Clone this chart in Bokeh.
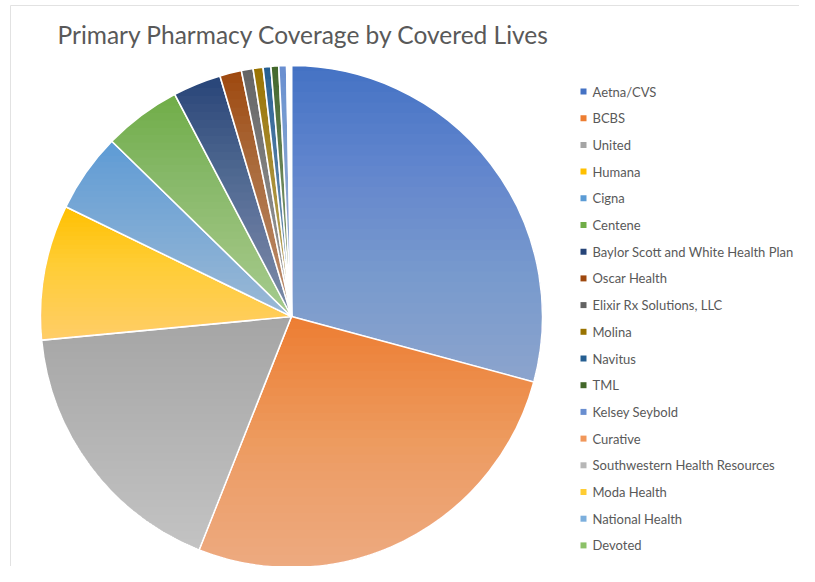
import math
from bokeh.plotting import figure
from bokeh.models import ColumnDataSource, Range1d
from bokeh.core.properties import value
from bokeh.embed import file_html
from bokeh.resources import INLINE

title = "Primary Pharmacy Coverage by Covered Lives"

names = ["Aetna/CVS", "BCBS", "United", "Humana", "Cigna", "Centene",
         "Baylor Scott and White Health Plan", "Oscar Health",
         "Elixir Rx Solutions, LLC", "Molina", "Navitus", "TML",
         "Kelsey Seybold", "Curative", "Southwestern Health Resources",
         "Moda  Health", "National Health", "Devoted"]
shares = [29.2, 26.8, 17.5, 8.7, 5.1, 5.0, 3.1, 1.4, 0.75, 0.64, 0.5, 0.5,
          0.5, 0.1, 0.08, 0.05, 0.05, 0.03]
colors = ["#4472C4", "#ED7D31", "#A5A5A5", "#FFC000", "#5B9BD5", "#70AD47",
          "#264478", "#9E480E", "#636363", "#997300", "#255E91", "#43682B",
          "#698ED0", "#F1975A", "#B7B7B7", "#FFCD33", "#7CAFDD", "#8CC168"]

W, H = 799, 566
CX, CY, R = 291, H - 316, 251

total = sum(shares)
starts, ends = [], []
c = 0.0
for v in shares:
    starts.append(math.pi / 2 - 2 * math.pi * c / total)
    c += v
    ends.append(math.pi / 2 - 2 * math.pi * c / total)

p = figure(width=W, height=H, x_range=Range1d(0, W), y_range=Range1d(0, H),
           x_axis_type=None, y_axis_type=None, output_backend="svg",
           toolbar_location=None, min_border=0)
p.grid.visible = False
p.outline_line_color = None
p.background_fill_color = "white"

src = ColumnDataSource(dict(name=names, share=shares, color=colors,
                            start=starts, end=ends))
p.wedge(x=CX, y=CY, radius=R, start_angle="start", end_angle="end",
        direction="clock", fill_color="color", line_color="white",
        line_width=1.6, source=src)

# per-slice vertical gradient (lighter toward the slice's bottom)
def clip_below(poly, yl):
    out = []
    n = len(poly)
    for i in range(n):
        x1, y1 = poly[i]
        x2, y2 = poly[(i + 1) % n]
        in1, in2 = y1 <= yl, y2 <= yl
        if in1:
            out.append((x1, y1))
        if in1 != in2:
            t = (yl - y1) / (y2 - y1)
            out.append((x1 + t * (x2 - x1), yl))
    return out

N = 30
final_alpha = 0.42
a = 1 - (1 - final_alpha) ** (1.0 / N)
gxs, gys = [], []
for s, e in zip(starts, ends):
    n = max(3, int(abs(s - e) / math.radians(0.5)) + 2)
    poly = [(CX, CY)]
    for k in range(n):
        th = s + (e - s) * k / (n - 1)
        poly.append((CX + R * math.cos(th), CY + R * math.sin(th)))
    ymax = max(q[1] for q in poly)
    ymin = min(q[1] for q in poly)
    for k in range(N):
        yl = ymax - (ymax - ymin) * (k + 0.5) / N
        cp = clip_below(poly, yl)
        if len(cp) >= 3:
            gxs.append([q[0] for q in cp])
            gys.append([q[1] for q in cp])
p.patches(gxs, gys, fill_color="white", fill_alpha=a, line_color=None)

# faint chart frame edges
p.segment(x0=[10, 10], y0=[0, H - 5], x1=[10, W], y1=[H - 5, H - 5],
          line_color="#E2E2E2", line_width=1)

# title
p.text(x=[57], y=[H - 34], text=[title], text_font=value("Lato"),
       text_font_size="24.5px", text_color="#595959", text_baseline="middle")

# legend
ly = [H - 91 - 26.7 * i for i in range(len(names))]
p.rect(x=[583] * len(names), y=ly, width=6, height=6, fill_color=colors,
       line_color=None)
p.text(x=[592] * len(names), y=ly, text=names, text_font=value("Lato"),
       text_font_size="13px", text_color="#595959", text_baseline="middle")

open("out.html", "w").write(file_html(p, INLINE))
